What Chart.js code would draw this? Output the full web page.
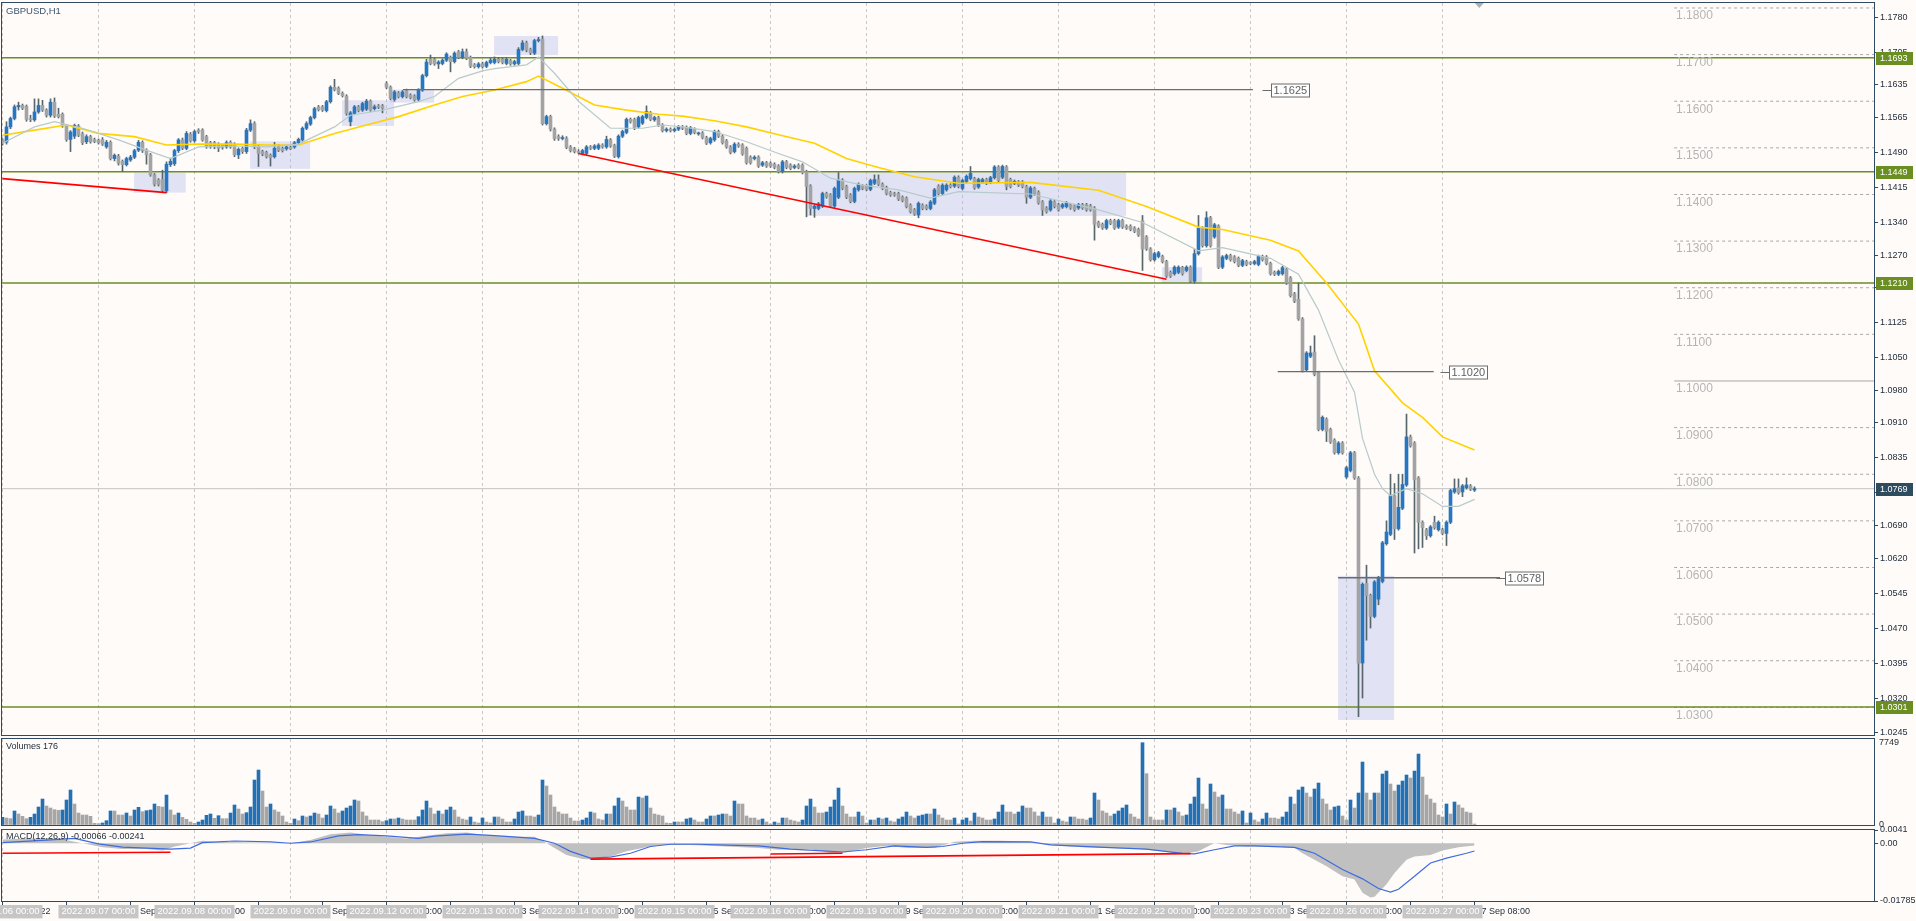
<!DOCTYPE html>
<html>
<head>
<meta charset="utf-8">
<title>GBPUSD,H1</title>
<script src="https://cdn.jsdelivr.net/npm/chart.js@4.4.1/dist/chart.umd.min.js"></script>
<style>
  html, body { margin: 0; padding: 0; background: #fffbf9; }
  body { width: 1916px; height: 921px; position: relative; overflow: hidden; }
  canvas { position: absolute; left: 0; }
  #price { top: 0; }
  #volume { top: 736px; }
  #macd { top: 822px; }
</style>
</head>
<body>
<canvas id="price" width="1916" height="740"></canvas>
<canvas id="volume" width="1916" height="98"></canvas>
<canvas id="macd" width="1916" height="99"></canvas>
<script>
// GBPUSD H1, 6 Sep 00:00 .. 27 Sep 08:00 (server time), one row per hour: [open, high, low, close]
const candles = [
  // 6 Sep
  [1.1517,1.1520,1.1506,1.1510],[1.1512,1.1556,1.1508,1.1545],[1.1545,1.1566,1.1541,1.1563],[1.1563,1.1592,1.1560,1.1588],[1.1588,1.1598,1.1581,1.1591],[1.1591,1.1594,1.1582,1.1585],
  [1.1589,1.1592,1.1557,1.1561],[1.1562,1.1570,1.1556,1.1560],[1.1560,1.1605,1.1557,1.1577],[1.1577,1.1605,1.1574,1.1591],[1.1591,1.1602,1.1578,1.1581],[1.1581,1.1584,1.1566,1.1570],
  [1.1570,1.1605,1.1566,1.1598],[1.1598,1.1607,1.1565,1.1568],[1.1572,1.1585,1.1564,1.1567],[1.1572,1.1575,1.1544,1.1547],[1.1547,1.1550,1.1514,1.1518],[1.1518,1.1537,1.1492,1.1534],
  [1.1525,1.1551,1.1520,1.1548],[1.1547,1.1550,1.1524,1.1527],[1.1530,1.1534,1.1507,1.1511],[1.1513,1.1528,1.1509,1.1524],[1.1524,1.1527,1.1510,1.1513],[1.1518,1.1521,1.1511,1.1514],
  // 7 Sep
  [1.1516,1.1519,1.1508,1.1511],[1.1518,1.1522,1.1505,1.1508],[1.1502,1.1516,1.1499,1.1512],[1.1512,1.1515,1.1474,1.1477],[1.1477,1.1487,1.1472,1.1484],[1.1482,1.1486,1.1463,1.1467],
  [1.1471,1.1474,1.1449,1.1464],[1.1464,1.1480,1.1461,1.1477],[1.1474,1.1484,1.1471,1.1480],[1.1480,1.1497,1.1477,1.1494],[1.1495,1.1516,1.1492,1.1512],[1.1512,1.1515,1.1490,1.1494],
  [1.1495,1.1498,1.1465,1.1485],[1.1485,1.1488,1.1439,1.1442],[1.1442,1.1445,1.1418,1.1422],[1.1431,1.1434,1.1418,1.1422],[1.1432,1.1452,1.1405,1.1409],[1.1408,1.1470,1.1404,1.1465],
  [1.1464,1.1478,1.1460,1.1471],[1.1466,1.1497,1.1462,1.1494],[1.1494,1.1520,1.1490,1.1517],[1.1517,1.1521,1.1496,1.1499],[1.1499,1.1535,1.1496,1.1531],[1.1529,1.1533,1.1512,1.1515],
  // 8 Sep
  [1.1515,1.1538,1.1512,1.1535],[1.1538,1.1541,1.1531,1.1535],[1.1538,1.1541,1.1514,1.1517],[1.1524,1.1527,1.1499,1.1502],[1.1511,1.1514,1.1499,1.1502],[1.1511,1.1514,1.1498,1.1502],
  [1.1508,1.1511,1.1492,1.1499],[1.1506,1.1508,1.1497,1.1501],[1.1502,1.1515,1.1499,1.1511],[1.1512,1.1515,1.1499,1.1502],[1.1508,1.1511,1.1481,1.1485],[1.1485,1.1500,1.1477,1.1497],
  [1.1499,1.1502,1.1488,1.1492],[1.1492,1.1542,1.1488,1.1538],[1.1538,1.1560,1.1535,1.1552],[1.1552,1.1556,1.1498,1.1502],[1.1502,1.1505,1.1460,1.1488],[1.1492,1.1495,1.1483,1.1487],
  [1.1490,1.1493,1.1478,1.1481],[1.1484,1.1487,1.1461,1.1479],[1.1481,1.1512,1.1478,1.1499],[1.1504,1.1507,1.1492,1.1495],[1.1499,1.1502,1.1491,1.1494],[1.1498,1.1505,1.1495,1.1502],
  // 9 Sep
  [1.1501,1.1504,1.1496,1.1498],[1.1502,1.1514,1.1499,1.1511],[1.1511,1.1521,1.1508,1.1518],[1.1517,1.1545,1.1514,1.1542],[1.1542,1.1556,1.1539,1.1552],[1.1551,1.1568,1.1548,1.1565],
  [1.1565,1.1587,1.1562,1.1584],[1.1588,1.1591,1.1579,1.1582],[1.1588,1.1591,1.1578,1.1581],[1.1580,1.1602,1.1577,1.1599],[1.1599,1.1633,1.1596,1.1630],[1.1630,1.1647,1.1622,1.1625],
  [1.1628,1.1631,1.1614,1.1617],[1.1617,1.1620,1.1609,1.1612],[1.1611,1.1614,1.1570,1.1574],[1.1556,1.1578,1.1547,1.1575],[1.1574,1.1591,1.1571,1.1588],[1.1588,1.1591,1.1577,1.1580],
  [1.1581,1.1598,1.1578,1.1595],[1.1583,1.1604,1.1580,1.1600],[1.1600,1.1603,1.1578,1.1581],[1.1584,1.1592,1.1581,1.1588],[1.1590,1.1593,1.1584,1.1587],[1.1590,1.1593,1.1575,1.1585],
  // 12 Sep
  [1.1638,1.1642,1.1627,1.1630],[1.1630,1.1633,1.1603,1.1606],[1.1604,1.1623,1.1600,1.1620],[1.1618,1.1621,1.1607,1.1610],[1.1610,1.1623,1.1607,1.1620],[1.1622,1.1626,1.1607,1.1610],
  [1.1613,1.1616,1.1605,1.1608],[1.1611,1.1614,1.1600,1.1603],[1.1604,1.1627,1.1601,1.1624],[1.1624,1.1658,1.1621,1.1655],[1.1655,1.1690,1.1652,1.1684],[1.1690,1.1699,1.1678,1.1681],
  [1.1690,1.1693,1.1677,1.1680],[1.1680,1.1687,1.1670,1.1684],[1.1681,1.1691,1.1678,1.1688],[1.1688,1.1704,1.1685,1.1701],[1.1694,1.1697,1.1663,1.1685],[1.1685,1.1706,1.1682,1.1703],
  [1.1706,1.1709,1.1691,1.1694],[1.1694,1.1712,1.1691,1.1706],[1.1706,1.1712,1.1689,1.1692],[1.1694,1.1697,1.1672,1.1675],[1.1678,1.1681,1.1671,1.1674],[1.1674,1.1683,1.1671,1.1680],
  // 13 Sep
  [1.1680,1.1684,1.1671,1.1674],[1.1675,1.1686,1.1672,1.1683],[1.1683,1.1692,1.1680,1.1688],[1.1683,1.1695,1.1680,1.1690],[1.1690,1.1694,1.1682,1.1685],[1.1690,1.1693,1.1680,1.1683],
  [1.1681,1.1694,1.1678,1.1690],[1.1687,1.1690,1.1677,1.1680],[1.1680,1.1688,1.1677,1.1685],[1.1681,1.1715,1.1678,1.1711],[1.1711,1.1730,1.1708,1.1725],[1.1725,1.1729,1.1706,1.1710],
  [1.1711,1.1714,1.1700,1.1704],[1.1703,1.1733,1.1700,1.1730],[1.1730,1.1737,1.1727,1.1732],[1.1733,1.1740,1.1549,1.1552],[1.1552,1.1570,1.1549,1.1567],[1.1567,1.1570,1.1536,1.1540],
  [1.1540,1.1543,1.1516,1.1520],[1.1524,1.1528,1.1516,1.1520],[1.1520,1.1526,1.1517,1.1522],[1.1520,1.1524,1.1498,1.1501],[1.1502,1.1505,1.1491,1.1494],[1.1498,1.1501,1.1489,1.1492],
  // 14 Sep
  [1.1492,1.1496,1.1487,1.1490],[1.1488,1.1497,1.1485,1.1494],[1.1488,1.1505,1.1485,1.1502],[1.1502,1.1505,1.1496,1.1499],[1.1499,1.1507,1.1496,1.1504],[1.1499,1.1509,1.1496,1.1506],
  [1.1506,1.1509,1.1499,1.1502],[1.1502,1.1525,1.1499,1.1518],[1.1517,1.1520,1.1501,1.1504],[1.1505,1.1508,1.1479,1.1482],[1.1481,1.1528,1.1478,1.1525],[1.1525,1.1538,1.1522,1.1535],
  [1.1533,1.1564,1.1530,1.1561],[1.1561,1.1564,1.1553,1.1556],[1.1561,1.1564,1.1539,1.1542],[1.1545,1.1568,1.1542,1.1565],[1.1553,1.1570,1.1550,1.1567],[1.1565,1.1590,1.1562,1.1578],
  [1.1575,1.1578,1.1558,1.1561],[1.1560,1.1568,1.1557,1.1565],[1.1565,1.1568,1.1546,1.1549],[1.1549,1.1552,1.1534,1.1537],[1.1537,1.1543,1.1534,1.1540],[1.1540,1.1543,1.1534,1.1537],
  // 15 Sep
  [1.1537,1.1543,1.1534,1.1540],[1.1540,1.1548,1.1537,1.1545],[1.1545,1.1548,1.1539,1.1542],[1.1544,1.1547,1.1528,1.1531],[1.1531,1.1546,1.1528,1.1543],[1.1540,1.1543,1.1530,1.1533],
  [1.1530,1.1534,1.1527,1.1531],[1.1532,1.1535,1.1519,1.1522],[1.1522,1.1525,1.1507,1.1510],[1.1511,1.1523,1.1508,1.1520],[1.1517,1.1538,1.1514,1.1535],[1.1535,1.1538,1.1522,1.1525],
  [1.1525,1.1528,1.1508,1.1511],[1.1515,1.1518,1.1499,1.1502],[1.1502,1.1505,1.1487,1.1490],[1.1492,1.1511,1.1489,1.1508],[1.1508,1.1511,1.1501,1.1504],[1.1506,1.1509,1.1484,1.1487],
  [1.1499,1.1502,1.1465,1.1468],[1.1480,1.1483,1.1465,1.1468],[1.1477,1.1483,1.1474,1.1480],[1.1480,1.1483,1.1458,1.1461],[1.1463,1.1471,1.1460,1.1468],[1.1468,1.1471,1.1458,1.1461],
  // 16 Sep
  [1.1467,1.1470,1.1458,1.1461],[1.1465,1.1468,1.1455,1.1458],[1.1461,1.1464,1.1446,1.1449],[1.1449,1.1473,1.1446,1.1470],[1.1470,1.1473,1.1455,1.1458],[1.1463,1.1466,1.1453,1.1456],
  [1.1458,1.1464,1.1455,1.1461],[1.1463,1.1466,1.1455,1.1458],[1.1463,1.1466,1.1444,1.1447],[1.1449,1.1452,1.1352,1.1417],[1.1418,1.1421,1.1356,1.1370],[1.1370,1.1378,1.1351,1.1375],
  [1.1370,1.1383,1.1367,1.1380],[1.1375,1.1405,1.1372,1.1402],[1.1402,1.1405,1.1392,1.1395],[1.1399,1.1402,1.1372,1.1375],[1.1375,1.1416,1.1372,1.1413],[1.1394,1.1447,1.1391,1.1431],
  [1.1431,1.1434,1.1410,1.1413],[1.1417,1.1420,1.1391,1.1394],[1.1399,1.1402,1.1382,1.1385],[1.1385,1.1416,1.1382,1.1413],[1.1410,1.1425,1.1407,1.1422],[1.1418,1.1421,1.1410,1.1413],
  // 19 Sep
  [1.1418,1.1421,1.1408,1.1411],[1.1411,1.1433,1.1408,1.1430],[1.1424,1.1442,1.1421,1.1432],[1.1432,1.1442,1.1419,1.1422],[1.1422,1.1425,1.1410,1.1413],[1.1415,1.1418,1.1399,1.1402],
  [1.1404,1.1407,1.1396,1.1399],[1.1402,1.1405,1.1396,1.1399],[1.1402,1.1405,1.1387,1.1390],[1.1394,1.1397,1.1384,1.1387],[1.1392,1.1395,1.1371,1.1374],[1.1377,1.1380,1.1360,1.1363],
  [1.1367,1.1370,1.1355,1.1358],[1.1356,1.1384,1.1350,1.1381],[1.1377,1.1380,1.1367,1.1370],[1.1375,1.1378,1.1367,1.1370],[1.1370,1.1387,1.1367,1.1384],[1.1381,1.1413,1.1378,1.1410],
  [1.1418,1.1421,1.1399,1.1402],[1.1402,1.1423,1.1399,1.1420],[1.1410,1.1423,1.1407,1.1420],[1.1420,1.1423,1.1414,1.1417],[1.1418,1.1440,1.1415,1.1437],[1.1437,1.1440,1.1414,1.1417],
  // 20 Sep
  [1.1413,1.1433,1.1410,1.1430],[1.1428,1.1442,1.1425,1.1439],[1.1434,1.1460,1.1431,1.1445],[1.1434,1.1437,1.1411,1.1414],[1.1416,1.1435,1.1413,1.1432],[1.1427,1.1435,1.1424,1.1432],
  [1.1432,1.1435,1.1421,1.1424],[1.1426,1.1439,1.1423,1.1436],[1.1436,1.1462,1.1433,1.1459],[1.1459,1.1462,1.1427,1.1430],[1.1437,1.1463,1.1434,1.1460],[1.1459,1.1462,1.1410,1.1417],
  [1.1432,1.1435,1.1414,1.1417],[1.1424,1.1431,1.1421,1.1428],[1.1427,1.1430,1.1417,1.1420],[1.1427,1.1430,1.1414,1.1417],[1.1417,1.1420,1.1381,1.1394],[1.1394,1.1417,1.1391,1.1414],
  [1.1413,1.1416,1.1398,1.1401],[1.1405,1.1408,1.1379,1.1382],[1.1384,1.1387,1.1355,1.1367],[1.1371,1.1374,1.1360,1.1363],[1.1367,1.1389,1.1364,1.1386],[1.1384,1.1387,1.1371,1.1374],
  // 21 Sep
  [1.1378,1.1381,1.1364,1.1367],[1.1373,1.1381,1.1370,1.1378],[1.1374,1.1385,1.1371,1.1382],[1.1378,1.1381,1.1368,1.1371],[1.1376,1.1379,1.1364,1.1367],[1.1371,1.1381,1.1368,1.1378],
  [1.1378,1.1381,1.1368,1.1371],[1.1378,1.1381,1.1364,1.1367],[1.1376,1.1379,1.1364,1.1367],[1.1371,1.1374,1.1302,1.1336],[1.1340,1.1343,1.1329,1.1332],[1.1336,1.1339,1.1325,1.1328],
  [1.1328,1.1347,1.1325,1.1344],[1.1344,1.1347,1.1335,1.1338],[1.1344,1.1347,1.1325,1.1328],[1.1330,1.1347,1.1327,1.1344],[1.1344,1.1347,1.1327,1.1330],[1.1332,1.1335,1.1325,1.1328],
  [1.1332,1.1335,1.1322,1.1325],[1.1328,1.1331,1.1318,1.1321],[1.1325,1.1328,1.1310,1.1313],[1.1344,1.1355,1.1237,1.1283],[1.1309,1.1312,1.1280,1.1283],[1.1283,1.1286,1.1257,1.1260],
  // 22 Sep
  [1.1260,1.1276,1.1257,1.1273],[1.1267,1.1278,1.1264,1.1275],[1.1267,1.1270,1.1253,1.1256],[1.1256,1.1259,1.1222,1.1225],[1.1233,1.1236,1.1222,1.1225],[1.1230,1.1247,1.1227,1.1244],
  [1.1233,1.1247,1.1230,1.1244],[1.1243,1.1246,1.1227,1.1230],[1.1237,1.1247,1.1234,1.1244],[1.1244,1.1247,1.1211,1.1214],[1.1214,1.1282,1.1210,1.1273],[1.1273,1.1355,1.1270,1.1328],
  [1.1328,1.1331,1.1287,1.1290],[1.1290,1.1363,1.1287,1.1350],[1.1350,1.1353,1.1287,1.1290],[1.1309,1.1338,1.1306,1.1335],[1.1332,1.1335,1.1241,1.1244],[1.1244,1.1269,1.1241,1.1266],
  [1.1263,1.1272,1.1260,1.1269],[1.1269,1.1272,1.1257,1.1260],[1.1266,1.1269,1.1253,1.1256],[1.1263,1.1266,1.1245,1.1248],[1.1248,1.1261,1.1245,1.1258],[1.1256,1.1259,1.1247,1.1250],
  // 23 Sep
  [1.1253,1.1256,1.1249,1.1252],[1.1252,1.1259,1.1249,1.1256],[1.1250,1.1270,1.1247,1.1267],[1.1267,1.1270,1.1257,1.1260],[1.1266,1.1269,1.1249,1.1252],[1.1252,1.1255,1.1227,1.1230],
  [1.1233,1.1236,1.1226,1.1229],[1.1229,1.1238,1.1226,1.1235],[1.1230,1.1246,1.1227,1.1243],[1.1240,1.1243,1.1207,1.1210],[1.1221,1.1224,1.1180,1.1183],[1.1187,1.1190,1.1168,1.1171],
  [1.1175,1.1210,1.1130,1.1133],[1.1133,1.1136,1.1019,1.1022],[1.1024,1.1063,1.1021,1.1060],[1.1053,1.1075,1.1050,1.1060],[1.1062,1.1097,1.1011,1.1014],[1.1018,1.1021,1.0893,1.0896],
  [1.0896,1.0925,1.0893,1.0922],[1.0918,1.0921,1.0870,1.0892],[1.0896,1.0899,1.0866,1.0869],[1.0873,1.0876,1.0843,1.0846],[1.0846,1.0870,1.0843,1.0867],[1.0867,1.0870,1.0843,1.0846],
  // 26 Sep
  [1.0794,1.0817,1.0791,1.0814],[1.0808,1.0849,1.0805,1.0846],[1.0846,1.0849,1.0789,1.0792],[1.0792,1.0795,1.0280,1.0395],[1.0395,1.0567,1.0320,1.0564],[1.0566,1.0605,1.0444,1.0540],
  [1.0540,1.0543,1.0470,1.0495],[1.0495,1.0572,1.0492,1.0569],[1.0532,1.0581,1.0520,1.0578],[1.0570,1.0656,1.0567,1.0653],[1.0651,1.0700,1.0648,1.0676],[1.0671,1.0800,1.0668,1.0754],
  [1.0754,1.0780,1.0660,1.0683],[1.0683,1.0800,1.0680,1.0729],[1.0727,1.0800,1.0724,1.0778],[1.0777,1.0929,1.0774,1.0880],[1.0880,1.0884,1.0858,1.0861],[1.0867,1.0870,1.0631,1.0788],
  [1.0792,1.0795,1.0640,1.0697],[1.0697,1.0700,1.0643,1.0685],[1.0681,1.0684,1.0660,1.0668],[1.0668,1.0690,1.0665,1.0687],[1.0697,1.0710,1.0682,1.0685],[1.0681,1.0700,1.0678,1.0697],
  // 27 Sep
  [1.0681,1.0684,1.0670,1.0673],[1.0673,1.0700,1.0647,1.0697],[1.0697,1.0768,1.0694,1.0765],[1.0762,1.0790,1.0759,1.0769],[1.0771,1.0790,1.0757,1.0760],[1.0762,1.0778,1.0752,1.0775],
  [1.0771,1.0792,1.0768,1.0777],[1.0775,1.0778,1.0765,1.0768],[1.0766,1.0773,1.0763,1.0769]
];

// tick volume per hour
const volumes = [
  722,659,596,1318,1035,816,596,722,1035,1694,2447,1788,1600,1443,1380,1412,2353,3294,1976,1129,941,941,816,157,
  125,188,408,1318,1318,941,941,1129,847,1412,1663,1255,1349,1412,1976,1757,1694,2823,1412,941,1129,722,533,282,
  157,282,471,910,1035,627,878,596,596,1129,1882,1506,1035,1161,1694,4235,5176,3200,1694,1976,1412,1223,847,282,
  157,565,408,847,753,847,1129,1035,659,941,1788,1506,1129,1318,1600,1788,2353,2259,1223,847,471,471,471,314,
  408,565,565,659,565,471,471,471,784,1412,2259,1600,1035,1318,1035,1412,1694,1412,753,565,471,753,282,188,
  659,282,188,753,753,565,282,282,565,1223,1318,847,847,753,941,4235,3670,2823,1694,1223,1035,1035,659,376,
  376,471,659,1223,1129,565,471,1035,1035,1788,2541,2259,1694,1412,1412,2635,2541,2729,1600,1035,941,847,188,157,
  282,282,282,565,659,471,282,282,565,847,847,941,1035,1035,847,2259,1976,1976,847,659,659,471,565,282,
  94,282,188,659,659,471,376,282,471,1788,2447,1694,1129,1129,1223,1694,2353,3482,1788,1035,753,753,1223,847,
  188,471,471,659,565,659,376,282,565,753,1223,847,659,847,941,1035,1035,1506,941,659,471,471,659,94,
  471,659,376,1129,753,659,471,471,565,1223,1882,1223,1223,1035,1223,1788,1600,1600,1223,847,1223,753,753,188,
  565,376,282,753,753,565,565,471,659,3012,2353,1318,1129,847,1035,1318,1600,1882,1035,753,565,7749,4831,753,
  471,471,471,1412,1412,1600,1223,847,941,1976,2635,4423,1976,1506,3859,3106,2635,2823,1506,1506,1223,1035,1318,188,
  1129,471,282,565,1129,659,659,565,753,1223,2635,1976,3294,3576,3012,2635,3388,3953,2447,1976,1412,1694,1788,847,
  471,2353,1600,3012,5929,3012,2353,3012,3012,4800,5082,3859,3200,3764,4141,4706,4423,5082,6682,4517,2823,2447,2070,941,
  753,1976,1035,2165,1882,1600,1223,1129,94
];

// moving averages at these bar numbers
const maSlowAt = [0,8,16,24,33,41,49,58,66,74,83,91,99,108,115,123,131,134,140,148,156,164,170,178,186,194,203,211,219,228,239,257,274,286,299,305,317,324,331,339,343,350,355,360,368];
const maSlow = [1.1527,1.1538,1.1549,1.1531,1.1524,1.1506,1.1508,1.1508,1.1506,1.1506,1.1531,1.1549,1.1567,1.1592,1.1610,1.1624,1.1642,1.1654,1.1628,1.1592,1.1581,1.1572,1.1568,1.1558,1.1545,1.1528,1.1510,1.1477,1.1458,1.1438,1.1424,1.1426,1.1409,1.1374,1.1330,1.1325,1.1302,1.1279,1.1210,1.1122,1.1022,1.0953,1.0922,1.0880,1.0852];
const maFastAt = [0,8,13,20,29,37,42,49,58,66,74,83,87,95,104,108,114,120,123,131,134,138,144,152,160,165,170,178,186,194,200,207,215,224,232,239,257,274,285,299,305,317,324,329,334,338,340,343,345,347,351,355,360,364,368];
const maFast = [1.1510,1.1545,1.1556,1.1542,1.1517,1.1492,1.1477,1.1502,1.1504,1.1502,1.1508,1.1545,1.1570,1.1581,1.1599,1.1610,1.1649,1.1665,1.1670,1.1678,1.1695,1.1660,1.1600,1.1542,1.1542,1.1549,1.1545,1.1535,1.1513,1.1488,1.1470,1.1435,1.1420,1.1410,1.1392,1.1406,1.1401,1.1367,1.1340,1.1279,1.1286,1.1263,1.1229,1.1152,1.1045,1.0976,1.0877,1.0800,1.0769,1.0754,1.0769,1.0758,1.0731,1.0731,1.0746];

// MACD(12,26,9)
const macdAt = [0,7,14,18,21,25,30,36,40,43,47,50,54,62,72,77,82,87,92,96,101,105,111,116,121,128,133,135,138,141,145,149,152,156,160,164,172,181,189,194,202,207,211,216,221,226,233,238,243,250,257,262,270,277,284,290,295,299,302,303,306,311,318,323,325,328,331,335,338,340,342,343,346,348,351,353,357,360,364,368];
const macdHist = [0.0012,0.0015,0.0015,0.0005,-0.0002,-0.0012,-0.0018,-0.0018,-0.0022,-0.0010,0,0.0008,0.0004,0.0002,0,0.0010,0.0028,0.0033,0.0025,0.0020,0.0015,0.0022,0.0031,0.0033,0.0025,0.0020,0.0020,0.0008,-0.0015,-0.0036,-0.0049,-0.0051,-0.0041,-0.0025,-0.0015,-0.0005,-0.0005,-0.0010,-0.0015,-0.0020,-0.0018,-0.0031,-0.0028,-0.0015,-0.0008,-0.0015,-0.0015,0.0005,0.0008,0.0008,0.0005,-0.0005,-0.0012,-0.0015,-0.0018,-0.0025,-0.0033,-0.0025,-0.0005,0,-0.0005,-0.0010,-0.0010,-0.0015,-0.0031,-0.0051,-0.0071,-0.0102,-0.0112,-0.0153,-0.0168,-0.0165,-0.0127,-0.0092,-0.0051,-0.0041,-0.0036,-0.0022,-0.0012,-0.00066];
const signalAt = [0,11,18,24,30,36,42,47,50,58,67,72,77,84,89,96,104,108,116,121,125,133,138,142,147,152,157,162,167,174,181,189,197,204,210,216,223,231,235,240,245,257,262,274,286,295,298,303,308,313,323,328,335,340,344,347,349,353,357,361,366,368];
const macdSignal = [0.0002,0.0010,0.0015,-0.0002,-0.0012,-0.0015,-0.0018,-0.0015,0.0002,0.0007,0.0004,0,0.0004,0.0023,0.0027,0.0023,0.0015,0.0022,0.0028,0.0025,0.0022,0.0015,0,-0.0025,-0.0046,-0.0043,-0.0031,-0.0010,-0.0003,-0.0003,-0.0006,-0.0008,-0.0018,-0.0023,-0.0027,-0.0020,-0.0008,-0.0013,-0.0010,0,0.0005,0.0004,-0.0005,-0.0012,-0.0018,-0.0031,-0.0033,-0.0020,-0.0008,-0.0008,-0.0013,-0.0031,-0.0081,-0.0110,-0.0140,-0.0151,-0.0142,-0.0102,-0.0061,-0.0046,-0.0031,-0.0024];

// drawn objects
const greenLevels = [1.1693, 1.1449, 1.1210, 1.0301];
const lastPrice = 1.0769;
const roundLevels = [1.18,1.17,1.16,1.15,1.14,1.13,1.12,1.11,1.10,1.09,1.08,1.07,1.06,1.05,1.04,1.03];
const markPrices = [1.1625, 1.1020, 1.0578];
const markFrom = [100.1, 318.8, 333.9];
const markTo = [312.6, 357.8, 374.4];
const markBoxAt = [317.2, 361.7, 375.6];
const zoneFrom = [32.9, 61.9, 84.9, 96.9, 122.9, 200.9, 289.9, 333.9];
const zoneTo = [45.8, 76.9, 97.9, 107.9, 138.9, 280.9, 299.9, 347.9];
const zoneLow = [1.1404, 1.1455, 1.1547, 1.1597, 1.1699, 1.1354, 1.1210, 1.0273];
const zoneHigh = [1.1447, 1.1514, 1.1602, 1.1625, 1.1740, 1.1447, 1.1244, 1.0582];
const trendX1 = [0, 144], trendY1 = [1.1434, 1.1488];
const trendX2 = [41, 291], trendY2 = [1.1404, 1.1218];
const macdTrendX1 = [0, 147, 192], macdTrendY1 = [-0.0031, -0.0049, -0.0033];
const macdTrendX2 = [42, 297, 210], macdTrendY2 = [-0.0028, -0.0032, -0.0031];
const shiftMarkAt = 369.2;

// axes
const priceTicks = [1.1780,1.1705,1.1635,1.1565,1.1490,1.1415,1.1340,1.1270,1.1200,1.1125,1.1050,1.0980,1.0910,1.0835,1.0760,1.0690,1.0620,1.0545,1.0470,1.0395,1.0320,1.0245];
const volumeTicks = [7749, 0];
const macdTicks = [0.0041, 0, -0.01785];
const macdTickLabels = ['0.0041', '0.00', '-0.01785'];
const dayTicks = [0,24,48,72,96,120,144,168,192,216,240,264,288,312,336,360];
const dayLabels = ['2022.09.06 00:00','2022.09.07 00:00','2022.09.08 00:00','2022.09.09 00:00','2022.09.12 00:00','2022.09.13 00:00','2022.09.14 00:00','2022.09.15 00:00','2022.09.16 00:00','2022.09.19 00:00','2022.09.20 00:00','2022.09.21 00:00','2022.09.22 00:00','2022.09.23 00:00','2022.09.26 00:00','2022.09.27 00:00'];
const timeTicks = [0,16,32,48,64,80,96,112,128,144,160,176,192,208,224,240,256,272,288,304,320,336,352,368];
const timeLabels = ['6 Sep 2022','6 Sep 16:00','7 Sep 08:00','8 Sep 00:00','8 Sep 16:00','9 Sep 08:00','12 Sep 00:00','12 Sep 16:00','13 Sep 08:00','14 Sep 00:00','14 Sep 16:00','15 Sep 08:00','16 Sep 00:00','16 Sep 16:00','19 Sep 08:00','20 Sep 00:00','20 Sep 16:00','21 Sep 08:00','22 Sep 00:00','22 Sep 16:00','23 Sep 08:00','26 Sep 00:00','26 Sep 16:00','27 Sep 08:00'];


const BLUE = '#2676c2', GREY = '#a3a3a3', WICK = '#56666a';
const VBLUE = '#2370b4', VGREY = '#a6a6a6';
const AXIS = '#2f4a62', GRID = '#c8c8c8', TEXT = '#1d2b38';
const FONT = 'Liberation Sans, Arial, sans-serif';
const X_MIN = -0.125, X_MAX = 467.875, LEVEL_FROM = 417.9;

const pts = (xs, ys) => xs.map((x, k) => ({ x: x, y: ys[k] }));
const hline = (y, x1, x2) => [{ x: x1, y: y }, { x: x2, y: y }];
const bull = i => candles[i][3] >= candles[i][0];

function dayGridX() {
  return {
    type: 'linear', min: X_MIN, max: X_MAX, offset: false,
    afterBuildTicks: s => { s.ticks = dayTicks.map(v => ({ value: v })); },
    afterFit: s => { s.height = 0; s.paddingLeft = 0; s.paddingRight = 0; },
    ticks: { display: false },
    grid: { color: GRID, drawTicks: false, offset: false },
    border: { display: false, dash: [3, 3] }
  };
}

function rightY(min, max, ticks, label, tickMarks) {
  return {
    type: 'linear', position: 'right', min: min, max: max,
    afterBuildTicks: s => { s.ticks = ticks.map(v => ({ value: v })); },
    afterFit: s => { s.width = 42; s.paddingTop = 0; s.paddingBottom = 0; },
    grid: { drawOnChartArea: false, drawTicks: tickMarks, tickLength: 4, color: AXIS },
    border: { display: true, color: AXIS, width: 1 },
    ticks: { autoSkip: false, padding: tickMarks ? 2 : 5, color: TEXT, font: { family: FONT, size: 9 }, callback: label }
  };
}

function frame(ctx, a) {
  ctx.save();
  ctx.strokeStyle = AXIS;
  ctx.lineWidth = 1;
  ctx.strokeRect(a.left - 0.5, a.top - 0.5, a.right - a.left + 1, a.bottom - a.top + 1);
  ctx.restore();
}

const base = {
  responsive: false, animation: false, events: [], devicePixelRatio: 1,
  plugins: { legend: { display: false }, tooltip: { enabled: false } }
};

/* price pane */

const priceSets = [];
trendX1.forEach((x, k) => priceSets.push({ type: 'line', data: [{ x: x, y: trendY1[k] }, { x: trendX2[k], y: trendY2[k] }], borderColor: '#ff0000', borderWidth: 1.6, pointRadius: 0, order: 0 }));
markPrices.forEach((p, k) => priceSets.push({ type: 'line', data: hline(p, markFrom[k], markTo[k]), borderColor: '#6c6c6c', borderWidth: 1.3, pointRadius: 0, order: 0 }));
priceSets.push({ type: 'line', data: pts(maFastAt, maFast), borderColor: '#b6cbcb', borderWidth: 1.2, pointRadius: 0, order: 1 });
priceSets.push({ type: 'line', data: pts(maSlowAt, maSlow), borderColor: '#ffd200', borderWidth: 1.6, pointRadius: 0, order: 1 });
priceSets.push({
  type: 'bar', data: candles.map((c, i) => ({ x: i, y: [c[0], c[3]] })),
  backgroundColor: ctx => bull(ctx.dataIndex) ? BLUE : GREY,
  barThickness: 3, minBarLength: 1, grouped: false, order: 2
});
priceSets.push({
  type: 'bar', data: candles.map((c, i) => ({ x: i, y: [c[2], c[1]] })),
  backgroundColor: WICK, barThickness: 1, grouped: false, order: 3
});
greenLevels.forEach(p => priceSets.push({ type: 'line', data: hline(p, X_MIN, X_MAX), borderColor: '#6b8e23', borderWidth: 1.5, pointRadius: 0, order: 4 }));
priceSets.push({ type: 'line', data: hline(lastPrice, X_MIN, X_MAX), borderColor: '#c3c3c3', borderWidth: 1, pointRadius: 0, order: 4 });
roundLevels.forEach(p => priceSets.push({ type: 'line', data: hline(p, LEVEL_FROM, X_MAX), borderColor: '#a9a9a9', borderWidth: 1, borderDash: p === 1.1 ? [] : [3, 3], pointRadius: 0, order: 4 }));

const priceOverlay = {
  id: 'priceOverlay',
  beforeDatasetsDraw(chart) {
    const { ctx, chartArea: a, scales: { x, y } } = chart;
    ctx.save();
    ctx.beginPath();
    ctx.rect(a.left, a.top, a.right - a.left, a.bottom - a.top);
    ctx.clip();
    ctx.fillStyle = 'rgba(170,180,235,0.35)';
    zoneFrom.forEach((f, k) => {
      const x1 = x.getPixelForValue(f), x2 = x.getPixelForValue(zoneTo[k]);
      const y1 = y.getPixelForValue(zoneHigh[k]), y2 = y.getPixelForValue(zoneLow[k]);
      ctx.fillRect(x1, y1, x2 - x1, y2 - y1);
    });
    ctx.restore();
  },
  afterDraw(chart) {
    const { ctx, chartArea: a, scales: { x, y } } = chart;
    frame(ctx, a);
    ctx.save();

    // chart shift marker
    const sx = x.getPixelForValue(shiftMarkAt);
    ctx.fillStyle = '#a9b1b9';
    ctx.beginPath();
    ctx.moveTo(sx - 4.5, a.top);
    ctx.lineTo(sx + 4.5, a.top);
    ctx.lineTo(sx, a.top + 5);
    ctx.closePath();
    ctx.fill();

    ctx.textBaseline = 'middle';
    ctx.textAlign = 'left';

    ctx.font = '9.5px ' + FONT;
    ctx.fillStyle = '#3a5670';
    ctx.fillText('GBPUSD,H1', 6, 11);

    ctx.font = '12px ' + FONT;
    ctx.fillStyle = '#b5b5b5';
    roundLevels.forEach(p => ctx.fillText(p.toFixed(4), x.getPixelForValue(LEVEL_FROM) + 2, y.getPixelForValue(p) + 8));

    ctx.font = '11px ' + FONT;
    markPrices.forEach((p, k) => {
      const bx = Math.round(x.getPixelForValue(markBoxAt[k])) + 0.5;
      const by = Math.round(y.getPixelForValue(p)) + 0.5;
      const t = p.toFixed(4);
      const w = Math.round(ctx.measureText(t).width) + 4;
      ctx.strokeStyle = '#6c6c6c';
      ctx.lineWidth = 1;
      ctx.beginPath(); ctx.moveTo(bx - 9, by); ctx.lineTo(bx, by); ctx.stroke();
      ctx.fillStyle = '#ffffff';
      ctx.fillRect(bx, by - 6.5, w, 13);
      ctx.strokeRect(bx, by - 6.5, w, 13);
      ctx.fillStyle = '#606060';
      ctx.fillText(t, bx + 2, by + 0.5);
    });

    ctx.font = '9px ' + FONT;
    const tag = (p, bg) => {
      const yy = Math.round(y.getPixelForValue(p));
      ctx.fillStyle = bg;
      ctx.fillRect(a.right + 2, yy - 6, 37, 13);
      ctx.fillStyle = '#ffffff';
      ctx.fillText(p.toFixed(4), a.right + 6, yy + 0.5);
    };
    greenLevels.forEach(p => tag(p, '#6b8e23'));
    tag(lastPrice, '#2f4b5e');
    ctx.restore();
  }
};

new Chart(document.getElementById('price'), {
  type: 'bar',
  data: { datasets: priceSets },
  options: Object.assign({}, base, {
    layout: { padding: { left: 2, top: 3, right: 0, bottom: 5 }, autoPadding: false },
    scales: {
      x: dayGridX(),
      y: rightY(1.024070, 1.181067, priceTicks, v => v.toFixed(4), true)
    }
  }),
  plugins: [priceOverlay]
});

/* volumes pane */

new Chart(document.getElementById('volume'), {
  type: 'bar',
  data: {
    datasets: [{
      data: volumes.map((v, i) => ({ x: i, y: v })),
      backgroundColor: ctx => (ctx.dataIndex > 0 && volumes[ctx.dataIndex] > volumes[ctx.dataIndex - 1]) || ctx.dataIndex === 0 ? VBLUE : VGREY,
      barThickness: 3, grouped: false
    }]
  },
  options: Object.assign({}, base, {
    layout: { padding: { left: 2, top: 3, right: 0, bottom: 9 }, autoPadding: false },
    scales: {
      x: dayGridX(),
      y: rightY(0, 8097, volumeTicks, v => String(v), false)
    }
  }),
  plugins: [{
    id: 'volumeOverlay',
    afterDraw(chart) {
      const { ctx, chartArea: a } = chart;
      frame(ctx, a);
      ctx.save();
      ctx.font = '9px ' + FONT;
      ctx.fillStyle = TEXT;
      ctx.textBaseline = 'middle';
      ctx.fillText('Volumes 176', 6, 11);
      ctx.restore();
    }
  }]
});

/* MACD pane */

const macdSets = [];
macdTrendX1.forEach((x, k) => macdSets.push({ data: [{ x: x, y: macdTrendY1[k] }, { x: macdTrendX2[k], y: macdTrendY2[k] }], borderColor: '#ff0000', borderWidth: 1.6, pointRadius: 0, order: 0 }));
macdSets.push({ data: pts(signalAt, macdSignal), borderColor: '#3f6be0', borderWidth: 1.2, pointRadius: 0, order: 1 });
macdSets.push({ data: pts(macdAt, macdHist), borderWidth: 0, borderColor: 'rgba(0,0,0,0)', backgroundColor: '#c0c0c0', fill: 'origin', pointRadius: 0, order: 2 });

new Chart(document.getElementById('macd'), {
  type: 'line',
  data: { datasets: macdSets },
  options: Object.assign({}, base, {
    layout: { padding: { left: 2, top: 8, right: 0, bottom: 0 }, autoPadding: false },
    scales: {
      x: {
        type: 'linear', position: 'bottom', weight: 1, min: X_MIN, max: X_MAX, offset: false,
        afterBuildTicks: s => { s.ticks = timeTicks.map(v => ({ value: v })); },
        afterFit: s => { s.height = 20; s.paddingLeft = 0; s.paddingRight = 0; },
        grid: { drawOnChartArea: false, drawTicks: true, tickLength: 4, color: AXIS, offset: false },
        border: { display: true, color: AXIS },
        ticks: { autoSkip: false, maxRotation: 0, minRotation: 0, align: 'start', labelOffset: 2, padding: 1, color: TEXT, font: { family: FONT, size: 9 }, callback: (v, k) => timeLabels[k] }
      },
      days: {
        type: 'linear', position: 'bottom', weight: 0, min: X_MIN, max: X_MAX, offset: false,
        afterBuildTicks: s => { s.ticks = dayTicks.map(v => ({ value: v })); },
        // zero-height row that shares the date row below the pane, so its labels must not be clipped to it
        afterFit: s => { s.height = 0; s.paddingLeft = 0; s.paddingRight = 0; s._computeLabelArea = () => null; },
        grid: { color: GRID, drawTicks: false, offset: false },
        border: { display: false, dash: [3, 3] },
        ticks: {
          autoSkip: false, maxRotation: 0, minRotation: 0, padding: 5, color: '#ffffff',
          font: { family: FONT, size: 9.5 },
          showLabelBackdrop: true, backdropColor: '#c6c6c6', backdropPadding: { top: 1, bottom: 1, left: 3, right: 3 },
          callback: (v, k) => dayLabels[k]
        }
      },
      y: rightY(-0.01785, 0.0041, macdTicks, (v, k) => macdTickLabels[k], true)
    }
  }),
  plugins: [{
    id: 'macdOverlay',
    afterDraw(chart) {
      const { ctx, chartArea: a } = chart;
      frame(ctx, a);
      ctx.save();
      ctx.font = '9px ' + FONT;
      ctx.fillStyle = TEXT;
      ctx.textBaseline = 'middle';
      ctx.fillText('MACD(12,26,9) -0.00066 -0.00241', 6, 15);
      ctx.restore();
    }
  }]
});
</script>
</body>
</html>
